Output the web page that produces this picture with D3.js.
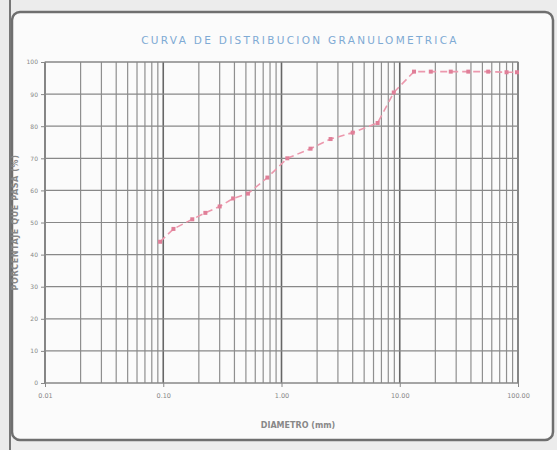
<!DOCTYPE html>
<html><head><meta charset="utf-8">
<script src="https://cdn.jsdelivr.net/npm/d3@7"></script>
<style>body{margin:0;background:#eeeeee;}svg{display:block;}</style>
</head><body>
<svg id="c" width="557" height="450"></svg>
<script>
const diameters = [0.094, 0.122, 0.176, 0.227, 0.30, 0.39, 0.52, 0.76, 1.12, 1.76, 2.6, 4.0, 6.5, 8.9, 13.2, 18.3, 27, 38, 56, 80, 98];
const passing   = [44, 48, 51, 53, 55, 57.5, 59, 64, 70, 73, 76, 78, 81, 90.5, 97, 97, 97, 97, 97, 96.8, 96.8];
const yTicks = [0,10,20,30,40,50,60,70,80,90,100];
const xTicks = [0.01, 0.1, 1, 10, 100];
const xTickLabels = ["0.01","0.10","1.00","10.00","100.00"];
const title = "CURVA DE DISTRIBUCION GRANULOMETRICA";
const xTitle = "DIAMETRO (mm)";
const yTitle = "PORCENTAJE QUE PASA (%)";

const svg = d3.select("#c");
// frame
svg.append("rect").attr("x",0).attr("y",0).attr("width",557).attr("height",450).attr("fill","#ececec");
svg.append("rect").attr("x",12).attr("y",12).attr("width",541).attr("height",428).attr("rx",8)
  .attr("fill","#fbfbfb").attr("stroke","#6f6f6f").attr("stroke-width",2.5);
svg.append("line").attr("x1",10).attr("x2",10).attr("y1",0).attr("y2",450).attr("stroke","#777").attr("stroke-width",2);

const L=45, R=518, T=62, B=383;
const x = d3.scaleLog().domain([0.01,100]).range([L,R]);
const y = d3.scaleLinear().domain([0,100]).range([B,T]);

// minor vertical grid
const minor = [];
for (let e=-2; e<2; e++) for (let m=1; m<10; m++) minor.push(m*Math.pow(10,e));
minor.push(100);
svg.append("g").selectAll("line").data(minor).join("line")
  .attr("x1",d=>x(d)).attr("x2",d=>x(d)).attr("y1",T).attr("y2",B)
  .attr("stroke",d=>xTicks.includes(d)?"#666":"#8f8f8f").attr("stroke-width",d=>xTicks.includes(d)?1.6:1.2);
svg.append("g").selectAll("line").data(yTicks).join("line")
  .attr("x1",L).attr("x2",R).attr("y1",d=>y(d)).attr("y2",d=>y(d))
  .attr("stroke","#888").attr("stroke-width",1.2);
svg.append("rect").attr("x",L).attr("y",T).attr("width",R-L).attr("height",B-T)
  .attr("fill","none").attr("stroke","#888").attr("stroke-width",1);

// axes labels
const yAx = svg.append("g").attr("transform",`translate(${L},0)`)
  .call(d3.axisLeft(y).tickValues(yTicks).tickSize(4).tickFormat(d3.format("d")));
yAx.select(".domain").remove();
yAx.selectAll("line").attr("stroke","#888");
yAx.selectAll("text").attr("fill","#888").style("font-family","DejaVu Sans, Arial").style("font-size","6px");
const xAx = svg.append("g").attr("transform",`translate(0,${B})`)
  .call(d3.axisBottom(x).tickValues(xTicks).tickSize(4).tickFormat((d,i)=>xTickLabels[i]));
xAx.select(".domain").remove();
xAx.selectAll("line").attr("stroke","#888");
xAx.selectAll("text").attr("fill","#888").attr("dy","1.3em").style("font-family","DejaVu Sans, Arial").style("font-size","6.5px");

// titles
svg.append("text").attr("x",300).attr("y",44).attr("text-anchor","middle").attr("fill","#7eaad4")
  .style("font-family","DejaVu Sans, Arial").style("font-size","10.5px").style("letter-spacing","2.3px").text(title);
svg.append("text").attr("x",298).attr("y",428).attr("text-anchor","middle").attr("fill","#888")
  .style("font-family","DejaVu Sans, Arial").style("font-size","8px").style("font-weight","bold").text(xTitle);
svg.append("text").attr("transform",`translate(18,${(T+B)/2}) rotate(-90)`).attr("text-anchor","middle").attr("fill","#888")
  .style("font-family","DejaVu Sans, Arial").style("font-size","8px").style("font-weight","bold").style("letter-spacing","0.6px").text(yTitle);

// curve
const pts = diameters.map((d,i)=>[d,passing[i]]);
svg.append("path").datum(pts).attr("fill","none").attr("stroke","#ec98ad").attr("stroke-width",1.6)
  .attr("stroke-dasharray","7,4")
  .attr("d",d3.line().x(d=>x(d[0])).y(d=>y(d[1])));
svg.append("g").selectAll("rect").data(pts).join("rect")
  .attr("x",d=>x(d[0])-2).attr("y",d=>y(d[1])-2).attr("width",4).attr("height",4)
  .attr("fill","#e07f98");
</script>
</body></html>
